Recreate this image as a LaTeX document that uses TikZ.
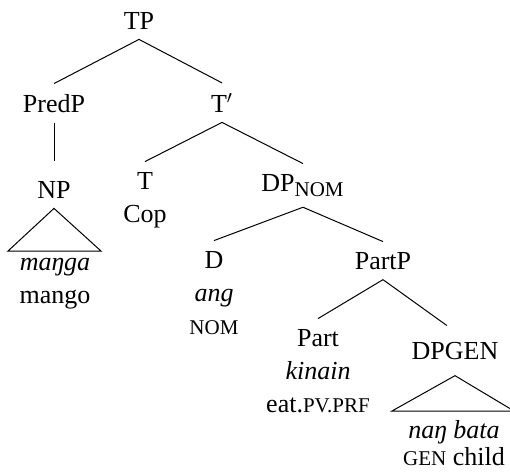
\documentclass[tikz,border=0pt]{standalone}
\usepackage{fontspec}
\setmainfont{Liberation Serif}
\usepackage{tikz}

% glosses set in small capitals
\newcommand{\glo}[1]{{\fontsize{10.5}{10.5}\selectfont #1}}

\tikzset{
  cat/.style={align=center, anchor=base, inner xsep=2pt, inner ysep=5pt,
    font=\fontsize{13}{16.5}\selectfont},
  leaf/.style={cat, font=\fontsize{13}{13.5}\selectfont},
  branch/.style={line width=0.5pt}
}

\begin{document}
\begin{tikzpicture}[x=0.5pt,y=-0.5pt]
\useasboundingbox (0,0) rectangle (510,472);
% categories (placed at the baseline of their last line)
\node[cat] (TP) at (139,29) {TP};
\node[cat] (PredP) at (54,112) {PredP};
\node[cat] (Tbar) at (222,112) {T$'$};
\node[cat] (NP) at (54,198) {NP};
\node[cat] (T) at (145,222) {T\\Cop};
\node[cat] (DPnom) at (303,191) {DP\textsubscript{\glo{NOM}}};
\node[cat] (D) at (214,334) {D\\\textit{ang}\\\glo{NOM}};
\node[cat] (PartP) at (383,269) {PartP};
\node[cat] (Part) at (318,412) {Part\\\textit{kinain}\\eat.\glo{PV.PRF}};
\node[cat] (DPgen) at (455,359) {DPGEN};
% leaves under the triangles
\node[cat] (manga) at (55,303) {\textit{maŋga}\\mango};
\node[leaf] (bata) at (454,465) {\textit{naŋ bata}\\\glo{GEN} child};
\coordinate (NPl) at (8,251);
\coordinate (NPr) at (101,251);
\coordinate (DPl) at (392,411);
\coordinate (DPr) at (514,411);
% branches
\draw[branch] (TP.south) -- (PredP.north);
\draw[branch] (TP.south) -- (Tbar.north);
\draw[branch, shorten >=5pt] (PredP.south) -- (NP.north);
\draw[branch] (Tbar.south) -- (T.north);
\draw[branch] (Tbar.south) -- (DPnom.north);
\draw[branch] (DPnom.south) -- (D.north);
\draw[branch] (DPnom.south) -- (PartP.north);
\draw[branch] (PartP.south) -- (Part.north);
\draw[branch, shorten >=5pt] (PartP.south) -- (DPgen.north);
\draw[branch] (NP.south) -- (NPl) -- (NPr) -- cycle;
\draw[branch] ([yshift=-3pt]DPgen.south) -- (DPl) -- (DPr) -- cycle;
\end{tikzpicture}
\end{document}
